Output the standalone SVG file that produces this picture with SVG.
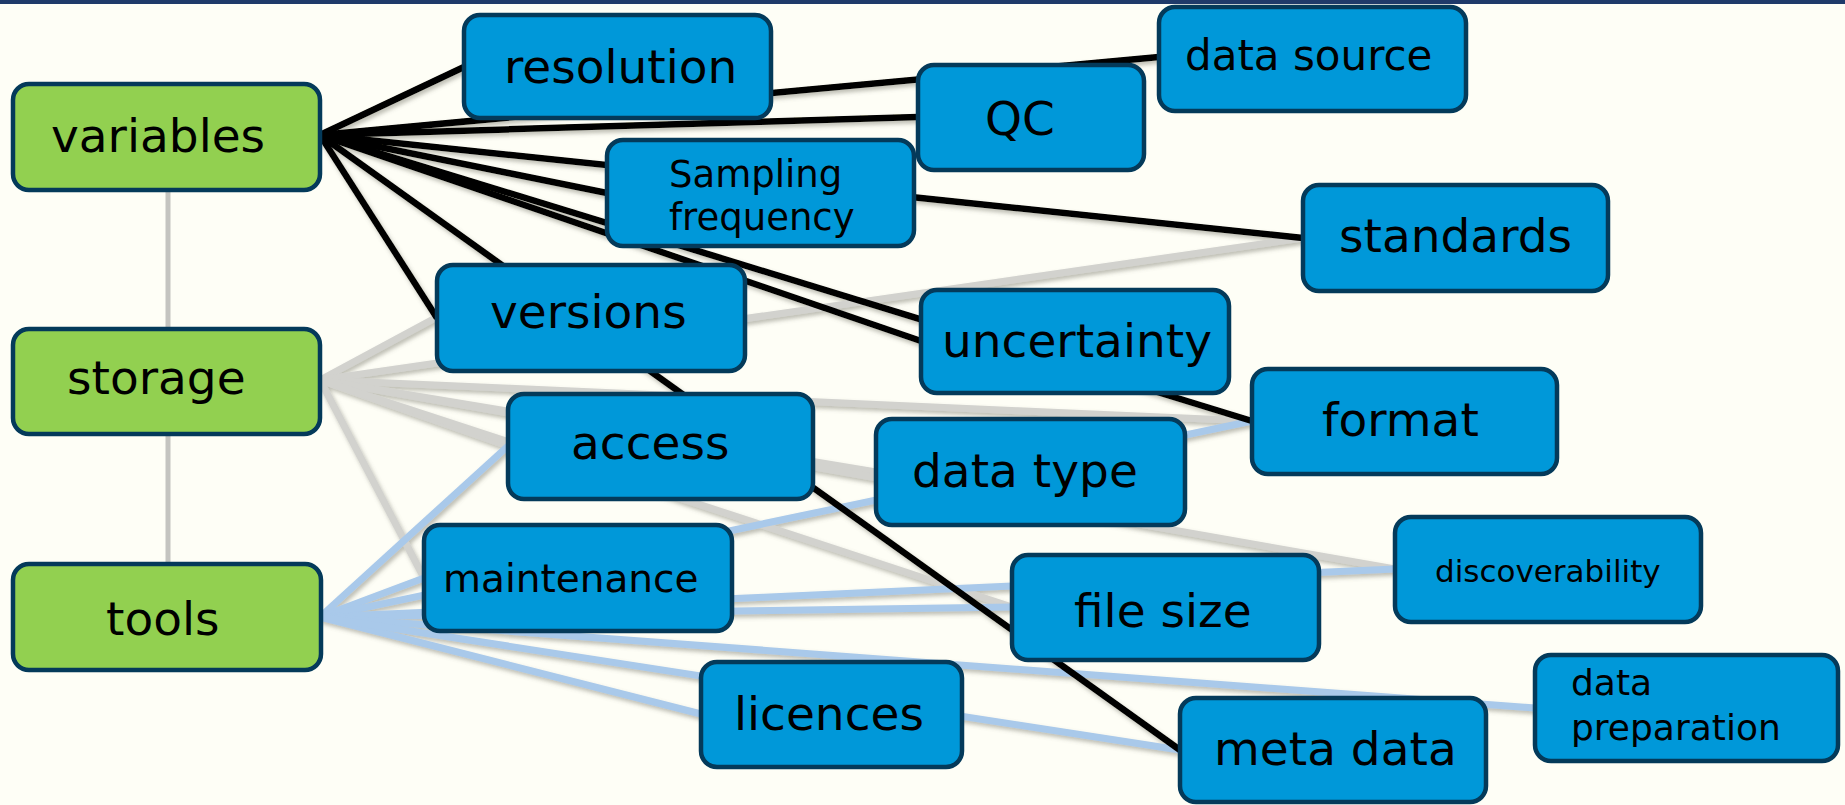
<svg xmlns="http://www.w3.org/2000/svg" width="1845" height="805" viewBox="0 0 1845 805">
<style>
.node rect{stroke:#043a5a;stroke-width:4.5}
.g rect{fill:#92d050}
.b rect{fill:#0098d9}
text{font-family:"DejaVu Sans","Liberation Sans",sans-serif;fill:#000}
.t47{font-size:47px}
.blk line{stroke:#000;stroke-width:6.5}
.gry line{stroke:#d2d2ce;stroke-width:7}
.blu line{stroke:#a9c9ea;stroke-width:7}
.vert line{stroke:#c4c4c0;stroke-width:5}
</style>
<defs>
<filter id="sh" x="-10%" y="-10%" width="120%" height="130%">
<feDropShadow dx="2" dy="3" stdDeviation="2" flood-color="#6e6e60" flood-opacity="0.45"/>
</filter>
</defs>
<rect x="0" y="0" width="1845" height="805" fill="#fefef6"/>
<rect x="0" y="0" width="1845" height="4" fill="#1f3a6a"/>
<g id="connectors">
<g class="vert">
<line x1="168" y1="192" x2="168" y2="327"/>
<line x1="168" y1="436" x2="168" y2="562"/>
</g>
<g filter="url(#sh)">
<g class="gry">
<line x1="320" y1="380" x2="437" y2="317"/>
<line x1="320" y1="380" x2="1303" y2="238"/>
<line x1="320" y1="380" x2="1252" y2="421"/>
<line x1="320" y1="380" x2="508" y2="446"/>
<line x1="320" y1="380" x2="876" y2="472"/>
<line x1="320" y1="380" x2="1395" y2="569"/>
<line x1="320" y1="380" x2="1012" y2="607"/>
<line x1="320" y1="380" x2="424" y2="578"/>
</g>
<g class="blu">
<line x1="320" y1="617" x2="508" y2="446"/>
<line x1="320" y1="617" x2="424" y2="578"/>
<line x1="320" y1="617" x2="1252" y2="421"/>
<line x1="320" y1="617" x2="1395" y2="569"/>
<line x1="320" y1="617" x2="1012" y2="607"/>
<line x1="320" y1="617" x2="1535" y2="708"/>
<line x1="320" y1="617" x2="701" y2="714"/>
<line x1="320" y1="617" x2="1180" y2="750"/>
</g>
<g class="blk">
<line x1="320" y1="135" x2="464" y2="67"/>
<line x1="320" y1="135" x2="1159" y2="57"/>
<line x1="320" y1="135" x2="918" y2="117"/>
<line x1="320" y1="135" x2="1303" y2="238"/>
<line x1="320" y1="135" x2="607" y2="193"/>
<line x1="320" y1="135" x2="1252" y2="421"/>
<line x1="320" y1="135" x2="921" y2="341"/>
<line x1="320" y1="135" x2="437" y2="318"/>
<line x1="320" y1="135" x2="1180" y2="750"/>
</g>
</g>
</g>
<g id="variables" class="node g"><rect x="13" y="84" width="307" height="106" rx="16"/><text class="t47" x="51" y="152">variables</text></g>
<g id="storage" class="node g"><rect x="13" y="329" width="307" height="105" rx="16"/><text class="t47" x="67" y="394">storage</text></g>
<g id="tools" class="node g"><rect x="13" y="564" width="308" height="106" rx="16"/><text class="t47" x="106" y="635">tools</text></g>
<g id="resolution" class="node b"><rect x="464" y="15" width="307" height="103" rx="16"/><text class="t47" x="504" y="83">resolution</text></g>
<g id="QC" class="node b"><rect x="918" y="65" width="226" height="105" rx="16"/><text class="t47" x="985" y="135">QC</text></g>
<g id="data-source" class="node b"><rect x="1159" y="7" width="307" height="104" rx="16"/><text x="1185" y="70" font-size="42">data source</text></g>
<g id="sampling-frequency" class="node b"><rect x="607" y="140" width="307" height="106" rx="16"/><text x="669" y="187" font-size="37">Sampling</text><text x="669" y="230" font-size="37">frequency</text></g>
<g id="standards" class="node b"><rect x="1303" y="185" width="305" height="106" rx="16"/><text class="t47" x="1339" y="252">standards</text></g>
<g id="versions" class="node b"><rect x="437" y="265" width="308" height="106" rx="16"/><text class="t47" x="490" y="328">versions</text></g>
<g id="uncertainty" class="node b"><rect x="921" y="290" width="308" height="103" rx="16"/><text class="t47" x="942" y="357">uncertainty</text></g>
<g id="format" class="node b"><rect x="1252" y="369" width="305" height="105" rx="16"/><text class="t47" x="1322" y="436">format</text></g>
<g id="access" class="node b"><rect x="508" y="394" width="305" height="105" rx="16"/><text class="t47" x="571" y="459">access</text></g>
<g id="data-type" class="node b"><rect x="876" y="419" width="309" height="106" rx="16"/><text class="t47" x="912" y="487">data type</text></g>
<g id="maintenance" class="node b"><rect x="424" y="525" width="308" height="106" rx="16"/><text x="443" y="592" font-size="39">maintenance</text></g>
<g id="file-size" class="node b"><rect x="1012" y="555" width="307" height="105" rx="16"/><text class="t47" x="1074" y="627">file size</text></g>
<g id="discoverability" class="node b"><rect x="1395" y="517" width="306" height="105" rx="16"/><text x="1435" y="582" font-size="31">discoverability</text></g>
<g id="licences" class="node b"><rect x="701" y="662" width="261" height="105" rx="16"/><text class="t47" x="734" y="730">licences</text></g>
<g id="meta-data" class="node b"><rect x="1180" y="698" width="306" height="104" rx="16"/><text class="t47" x="1214" y="765">meta data</text></g>
<g id="data-preparation" class="node b"><rect x="1535" y="655" width="303" height="106" rx="16"/><text x="1571" y="695" font-size="36">data</text><text x="1571" y="740" font-size="36">preparation</text></g>
</svg>
